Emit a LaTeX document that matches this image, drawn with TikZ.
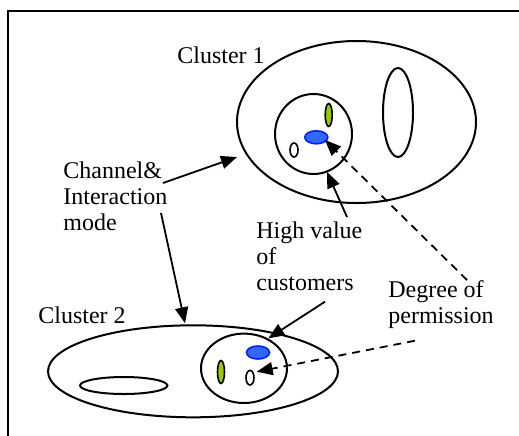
\documentclass[tikz,border=0pt]{standalone}
\usepackage{fontspec}
\setmainfont{Liberation Serif}
\usetikzlibrary{arrows.meta,shapes.geometric}
\definecolor{fillblue}{HTML}{3366FF}
\definecolor{edgeblue}{HTML}{0022FF}
\definecolor{fillgreen}{HTML}{99CC00}
\begin{document}
\begin{tikzpicture}[x=0.5pt,y=-0.5pt,
  ell/.style={draw,ellipse,line width=1pt,inner sep=0pt,outer sep=0pt},
  smallell/.style={draw,ellipse,line width=0.8pt,inner sep=0pt,outer sep=0pt},
  lbl/.style={font=\fontsize{12}{13}\selectfont,align=left,inner sep=0pt,anchor=base west},
  arr/.style={line width=0.9pt,-{Triangle[length=8pt,width=6.5pt]}},
  darr/.style={arr,dash pattern=on 4pt off 3pt}]
\path[use as bounding box] (0,0) rectangle (519,435);
\draw[line width=1pt] (8,440) -- (8,11) -- (525,11);
% Cluster 1
\node[ell,minimum width=119.5pt,minimum height=81pt] (c1) at (356.5,122) {};
\node[ell,minimum width=38.5pt,minimum height=40pt] (c1in) at (313.5,134) {};
\node[ell,minimum width=15pt,minimum height=44.5pt] (c1tall) at (398,112.5) {};
\node[smallell,fill=fillgreen,minimum width=3.5pt,minimum height=11.5pt] (g1) at (328.7,115) {};
\node[smallell,draw=edgeblue,fill=fillblue,minimum width=11.5pt,minimum height=6.5pt] (b1) at (316.3,137.3) {};
\node[smallell,minimum width=4pt,minimum height=7pt] (w1) at (294,150) {};
% Cluster 2
\node[ell,minimum width=145pt,minimum height=46pt] (c2) at (193,371.3) {};
\node[ell,minimum width=43.7pt,minimum height=8.5pt] (c2flat) at (123.7,385.5) {};
\node[ell,minimum width=43pt,minimum height=34.7pt] (c2in) at (244,368.3) {};
\node[smallell,draw=edgeblue,fill=fillblue,minimum width=11.5pt,minimum height=6.5pt] (b2) at (258,352.5) {};
\node[smallell,fill=fillgreen,minimum width=3.5pt,minimum height=11.5pt] (g2) at (221,372) {};
\node[smallell,minimum width=4pt,minimum height=7.3pt] (w2) at (250,377.7) {};
% Labels (multi-line labels are placed by the baseline of their last line)
\node[lbl] (cl1) at (177,63) {Cluster 1};
\node[lbl] (ch) at (63,230) {Channel\&\\Interaction\\mode};
\node[lbl] (hv) at (256,290.5) {High value\\of\\customers};
\node[lbl] (dp) at (388,323.3) {Degree of\\permission};
\node[lbl] (cl2) at (38,323) {Cluster 2};
% Connector end points
\coordinate (chA) at (163,183);
\coordinate (chB) at (161,213);
\coordinate (hvA) at (347,217);
\coordinate (hvB) at (325,301.7);
\coordinate (dpA) at (467,280);
\coordinate (dpB) at (415,340.7);
\coordinate (c1hit) at (237,157);
\coordinate (c2hit) at (185,323.3);
\coordinate (c1inhit) at (327,172);
\coordinate (b1hit) at (325,140);
\coordinate (c2inhit) at (268.3,338.3);
\coordinate (w2hit) at (256.7,371.7);
% Connectors
\draw[arr] (chA) -- (c1hit);
\draw[arr] (chB) -- (c2hit);
\draw[arr] (hvA) -- (c1inhit);
\draw[arr] (hvB) -- (c2inhit);
\draw[darr] (dpA) -- (b1hit);
\draw[darr] (dpB) -- (w2hit);
\end{tikzpicture}
\end{document}
